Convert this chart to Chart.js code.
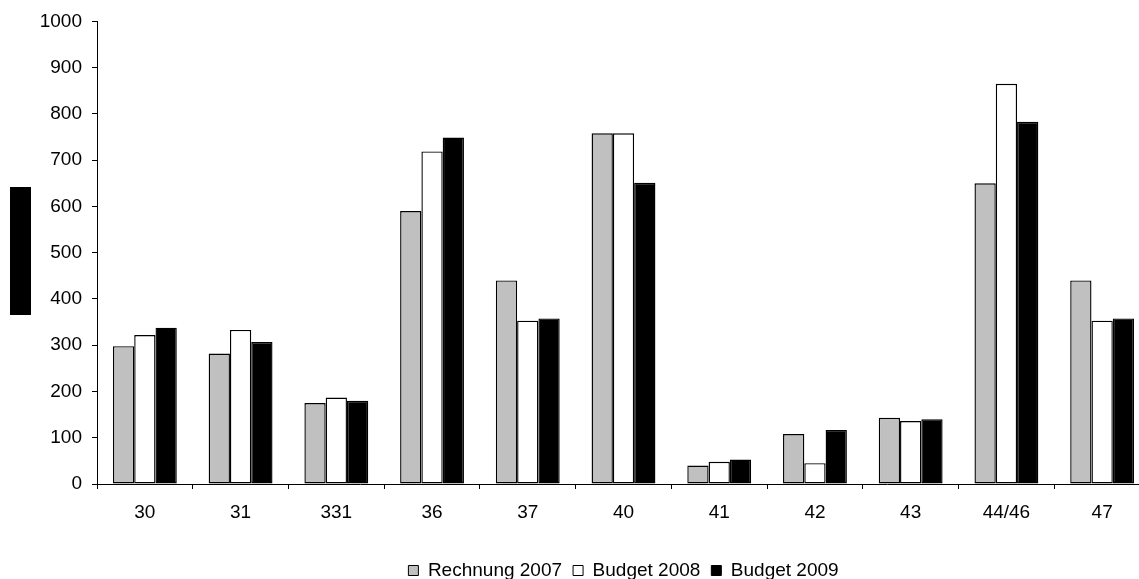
<!DOCTYPE html>
<html>
<head>
<meta charset="utf-8">
<script src="https://cdn.jsdelivr.net/npm/chart.js@4.4.0/dist/chart.umd.min.js"></script>
<style>
  html, body { margin: 0; padding: 0; background: #fff; overflow: hidden; }
  #wrap { position: relative; width: 1152px; height: 590px; }
  #marker { position: absolute; left: 10px; top: 187px; width: 21px; height: 128px; background: #000; }
</style>
</head>
<body>
<div id="wrap">
  <canvas id="chart" width="1152" height="590"></canvas>
  <div id="marker"></div>
</div>
<script>
// Kategorien und Werte
const categories = ['30', '31', '331', '36', '37', '40', '41', '42', '43', '44/46', '47'];
const rechnung2007 = [298, 282, 175, 590, 440, 758, 40, 108, 143, 650, 440];
const budget2008 = [322, 333, 187, 719, 353, 758, 48, 45, 136, 865, 353];
const budget2009 = [338, 307, 180, 749, 358, 651, 53, 117, 140, 783, 358];
const yTicks = [0, 100, 200, 300, 400, 500, 600, 700, 800, 900, 1000];

const font = { family: '"Liberation Sans", Arial, sans-serif', size: 19 };

const ctx = document.getElementById('chart').getContext('2d');
const chart = new Chart(ctx, {
    type: 'bar',
    data: {
        labels: categories,
        datasets: [
            { label: 'Rechnung 2007', data: rechnung2007, backgroundColor: '#C0C0C0', borderColor: '#000', borderWidth: 1.4, borderSkipped: false },
            { label: 'Budget 2008', data: budget2008, backgroundColor: '#FFFFFF', borderColor: '#000', borderWidth: 1.4, borderSkipped: false },
            { label: 'Budget 2009', data: budget2009, backgroundColor: '#000000', borderColor: '#000', borderWidth: 1.4, borderSkipped: false }
        ]
    },
    options: {
        responsive: false,
        animation: false,
        events: [],
        layout: { padding: { top: 20, right: 2, left: 0, bottom: 0 } },
        datasets: { bar: { categoryPercentage: 0.667, barPercentage: 1 } },
        plugins: {
            tooltip: { enabled: false },
            legend: {
                position: 'bottom',
                fullSize: false,
                labels: {
                    color: '#000',
                    font: font,
                    boxWidth: 10,
                    boxHeight: 10,
                    padding: 11,
                    generateLabels: (c) => c.data.datasets.map((ds, i) => ({
                        text: ds.label,
                        fillStyle: ds.backgroundColor,
                        strokeStyle: '#000',
                        lineWidth: 1,
                        datasetIndex: i
                    }))
                }
            }
        },
        scales: {
            x: {
                grid: { display: true, drawOnChartArea: false, drawTicks: true, tickLength: 5, color: '#000', offset: true },
                border: { display: true, color: '#000', width: 1 },
                ticks: { color: '#000', font: font, padding: 12, maxRotation: 0 },
                afterFit: (s) => { s.height = 66; }
            },
            y: {
                min: 0,
                max: 1000,
                afterBuildTicks: (s) => { s.ticks = yTicks.map(v => ({ value: v })); },
                grid: { display: true, drawOnChartArea: false, drawTicks: true, tickLength: 5, color: '#000' },
                border: { display: true, color: '#000', width: 1 },
                ticks: { color: '#000', font: font, padding: 10, callback: (v) => String(v) },
                afterFit: (s) => { s.width = 97; }
            }
        }
    }
});
</script>
</body>
</html>
